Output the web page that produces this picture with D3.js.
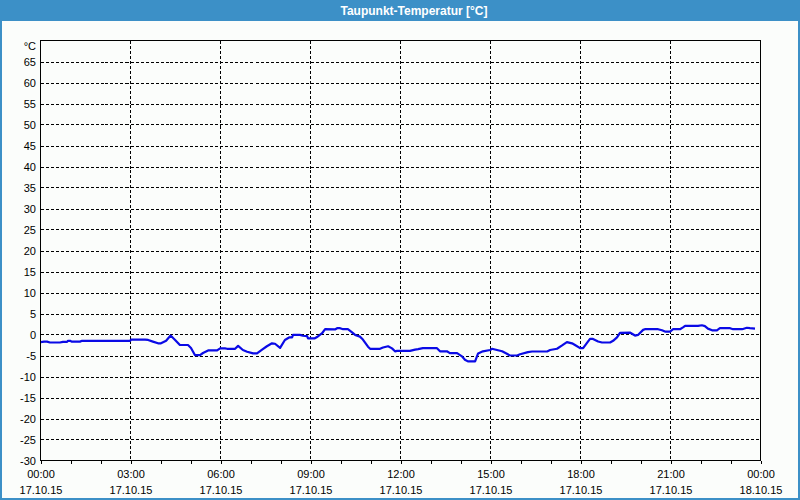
<!DOCTYPE html>
<html><head><meta charset="utf-8">
<script src="https://cdn.jsdelivr.net/npm/d3@7"></script>
<style>html,body{margin:0;padding:0;background:#fff;}svg{display:block;}</style>
</head><body>
<script>
const title = "Taupunkt-Temperatur [°C]";
const unitLabel = "°C";
const hours = [0,0.1,0.2,0.3,0.63,0.73,0.87,0.9,0.97,1.03,1.3,1.37,2.97,3.0,3.47,3.57,3.73,3.9,4.0,4.17,4.32,4.47,4.63,4.9,5.0,5.13,5.3,5.4,5.57,5.87,5.97,6.13,6.2,6.47,6.57,6.73,6.87,7.07,7.2,7.37,7.53,7.7,7.8,7.97,8.13,8.27,8.37,8.4,8.63,8.73,8.87,8.9,9.13,9.2,9.37,9.47,9.8,9.87,9.97,10.07,10.23,10.37,10.47,10.63,10.73,10.9,10.97,11.3,11.4,11.57,11.7,11.8,11.87,12.3,12.47,12.57,12.73,13.2,13.3,13.53,13.63,13.87,14.03,14.13,14.23,14.47,14.57,14.73,14.97,15.03,15.2,15.37,15.53,15.63,15.87,15.97,16.23,16.37,16.87,16.97,17.2,17.37,17.53,17.7,17.8,17.97,18.07,18.2,18.3,18.4,18.57,18.7,18.97,19.07,19.2,19.3,19.63,19.8,19.9,20.07,20.13,20.57,20.7,20.8,20.97,21.07,21.3,21.4,21.47,21.9,22.03,22.13,22.23,22.37,22.53,22.63,22.97,23.07,23.37,23.53,23.63,23.8];
const dewpoint = [-1.8,-1.7,-1.7,-1.9,-1.9,-1.75,-1.75,-1.5,-1.5,-1.7,-1.7,-1.5,-1.5,-1.2,-1.2,-1.3,-1.7,-2.1,-2.1,-1.5,-0.25,-1.3,-2.5,-2.5,-3.2,-4.9,-4.9,-4.4,-3.8,-3.8,-3.3,-3.3,-3.4,-3.4,-2.7,-3.7,-4.1,-4.5,-4.5,-3.6,-2.8,-2.1,-2.2,-3.2,-1.3,-0.7,-0.7,-0.1,-0.1,-0.3,-0.4,-0.9,-0.9,-0.6,0.3,1.26,1.2,1.5,1.5,1.26,1.26,0.5,-0.1,-0.5,-1.2,-2.9,-3.4,-3.4,-3.1,-2.8,-3.3,-4.0,-3.9,-3.9,-3.6,-3.5,-3.26,-3.26,-4.0,-4.0,-4.45,-4.45,-5.2,-6.0,-6.4,-6.4,-4.5,-4.0,-3.7,-3.4,-3.7,-4.0,-4.6,-5.0,-5.0,-4.7,-4.2,-4.05,-4.05,-3.7,-3.4,-2.6,-1.8,-2.1,-2.5,-3.26,-3.26,-2.0,-1.05,-1.05,-1.67,-1.9,-1.9,-1.5,-0.7,0.4,0.47,-0.25,-0.1,1.1,1.26,1.26,1.0,0.7,0.7,1.26,1.26,1.7,2.05,2.05,2.2,2.0,1.4,1.0,1.0,1.5,1.5,1.26,1.26,1.6,1.5,1.4];
const yTicks = [-30,-25,-20,-15,-10,-5,0,5,10,15,20,25,30,35,40,45,50,55,60,65];
const xTickHours = [0,3,6,9,12,15,18,21,24];
const xTimeLabels = ["00:00","03:00","06:00","09:00","12:00","15:00","18:00","21:00","00:00"];
const xDateLabels = ["17.10.15","17.10.15","17.10.15","17.10.15","17.10.15","17.10.15","17.10.15","17.10.15","18.10.15"];

const W = 800, H = 500;
const L = 40.5, R = 760.5, T = 40.5, B = 460.5;
const font = "'Liberation Sans', Arial, sans-serif";

const svg = d3.select("body").append("svg").attr("width", W).attr("height", H);
svg.append("rect").attr("x",0).attr("y",0).attr("width",W).attr("height",H).attr("fill","#3c90c7");
svg.append("rect").attr("x",2).attr("y",21).attr("width",W-4).attr("height",H-23).attr("fill","#fbfdfb");
svg.append("text").attr("x",414).attr("y",15).attr("text-anchor","middle")
  .attr("font-family",font).attr("font-size",12).attr("font-weight","bold").attr("fill","#fff").text(title);

const x = d3.scaleLinear().domain([0,24]).range([L+0.5, R+0.5]);
const y = d3.scaleLinear().domain([-30,70]).range([B, B - 100*4.2]);

// horizontal grid
svg.append("g").selectAll("line").data(yTicks.filter(v=>v>-30)).join("line")
  .attr("x1",L).attr("x2",R).attr("y1",d=>Math.round(y(d))+0.5).attr("y2",d=>Math.round(y(d))+0.5)
  .attr("stroke","#000").attr("stroke-dasharray","3,2").attr("shape-rendering","crispEdges");
// vertical grid
svg.append("g").selectAll("line").data(xTickHours.slice(1,-1)).join("line")
  .attr("x1",d=>Math.round(x(d))-0.5).attr("x2",d=>Math.round(x(d))-0.5).attr("y1",T).attr("y2",B)
  .attr("stroke","#000").attr("stroke-dasharray","3,2").attr("shape-rendering","crispEdges");

// frame
svg.append("rect").attr("x",L).attr("y",T).attr("width",R-L).attr("height",B-T)
  .attr("fill","none").attr("stroke","#000").attr("shape-rendering","crispEdges");

// hourly ticks
const xAxis = d3.axisBottom(x).tickValues(d3.range(0,25)).tickSize(3).tickFormat("");
const gx = svg.append("g").attr("transform",`translate(-0.5,${B})`).call(xAxis);
gx.select(".domain").remove();
gx.selectAll("line").attr("stroke","#000").attr("shape-rendering","crispEdges");

// x labels
const xl = svg.append("g").attr("font-family",font).attr("font-size",11).attr("fill","#000").attr("text-anchor","middle");
xl.selectAll("text.t").data(xTickHours).join("text").attr("class","t")
  .attr("x",d=>x(d)).attr("y",478).text((d,i)=>xTimeLabels[i]);
xl.selectAll("text.d").data(xTickHours).join("text").attr("class","d")
  .attr("x",d=>x(d)).attr("y",494).text((d,i)=>xDateLabels[i]);

// y labels
const yl = svg.append("g").attr("font-family",font).attr("font-size",11).attr("fill","#000").attr("text-anchor","end");
yl.selectAll("text").data(yTicks).join("text")
  .attr("x",36).attr("y",d=>y(d)+4).text(d=>d);
yl.append("text").attr("x",36).attr("y",50).text(unitLabel);

// data line
const pts = hours.map((h,i)=>[h,dewpoint[i]]);
svg.append("path").datum(pts)
  .attr("d", d3.line().x(d=>x(d[0])).y(d=>y(d[1])))
  .attr("fill","none").attr("stroke","#0a0ae6").attr("stroke-width",2.2).attr("stroke-linejoin","round");
</script>
</body></html>
